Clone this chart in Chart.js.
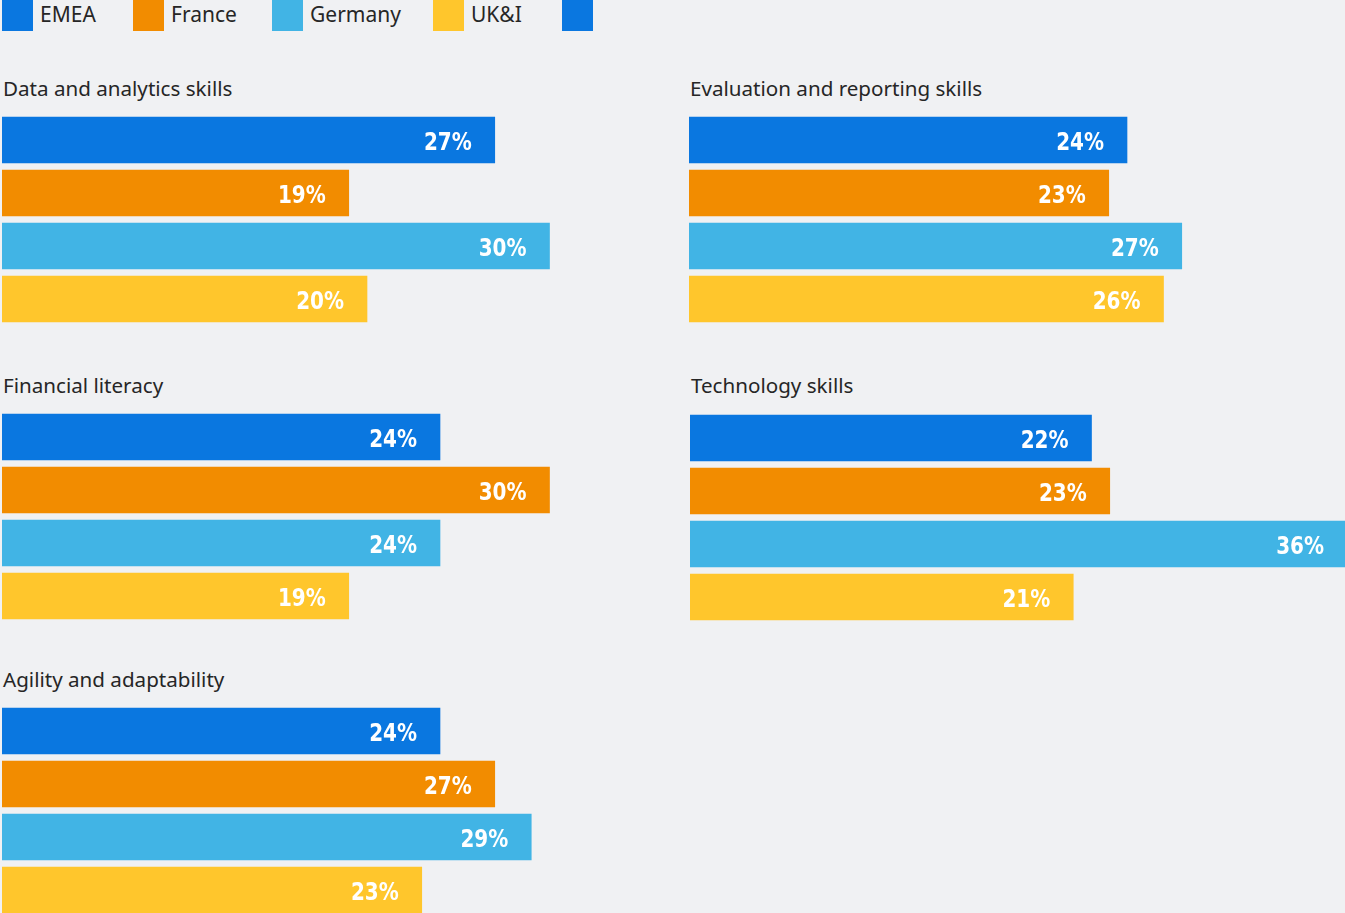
<!DOCTYPE html>
<html>
<head>
<meta charset="utf-8">
<script src="https://cdn.jsdelivr.net/npm/chart.js@4.4.1/dist/chart.umd.min.js"></script>
<style>
  html, body { margin: 0; padding: 0; background: #f0f1f3; overflow: hidden; }
  body { width: 1345px; height: 913px; position: relative; font-family: "Noto Sans", "Open Sans", sans-serif; color: #262626; }
  .legend-item { position: absolute; top: 0; height: 31px; display: flex; align-items: center; font-size: 21px; }
  .legend-item span { position: relative; top: -2px; }
  .swatch { width: 31px; height: 31px; margin-right: 7px; }
  .panel-title { position: absolute; font-size: 20.6px; line-height: 24px; white-space: nowrap; }
  .panel { position: absolute; width: 657px; height: 213px; }
</style>
</head>
<body>
<div id="legend"></div>
<div id="panels"></div>
<script>
// Survey groups shown as bars in every panel
const groups = ["EMEA", "France", "Germany", "UK&I"];
const groupColors = ["#0a77e0", "#f28c00", "#41b4e5", "#ffc62c"];

// Skill areas, one panel each
const skills = [
  "Data and analytics skills",
  "Evaluation and reporting skills",
  "Financial literacy",
  "Technology skills",
  "Agility and adaptability"
];

// Share of respondents (%) per skill area
const emea    = [27, 24, 24, 22, 24];
const france  = [19, 23, 30, 23, 27];
const germany = [30, 27, 24, 36, 29];
const ukI     = [20, 26, 19, 21, 23];

const axisMax = 36;

// Panel placement: left edge, title top, first bar top
const panelPos = [
  { x: 2,   titleY: 76,  barTop: 117 },
  { x: 689, titleY: 76,  barTop: 117 },
  { x: 2,   titleY: 373, barTop: 414 },
  { x: 690, titleY: 373, barTop: 415 },
  { x: 2,   titleY: 667, barTop: 708 }
];

// Legend
const legend = document.getElementById('legend');
const legendX = [2, 133, 272, 433];
groups.forEach((g, i) => {
  const item = document.createElement('div');
  item.className = 'legend-item';
  item.style.left = legendX[i] + 'px';
  item.innerHTML = '<div class="swatch" style="background:' + groupColors[i] + '"></div><span>' + g.replace('&', '&amp;') + '</span>';
  legend.appendChild(item);
});
const extra = document.createElement('div');
extra.className = 'legend-item';
extra.style.left = '562px';
extra.innerHTML = '<div class="swatch" style="background:' + groupColors[0] + ';margin-right:0"></div>';
legend.appendChild(extra);

// Value labels drawn inside each bar, right-aligned, in a condensed bold face
const valueLabels = {
  id: 'valueLabels',
  afterDatasetsDraw(chart) {
    const ctx = chart.ctx;
    const meta = chart.getDatasetMeta(0);
    const data = chart.data.datasets[0].data;
    const squeeze = 0.8;
    ctx.save();
    ctx.fillStyle = '#ffffff';
    ctx.font = 'bold 25px "DejaVu Sans", sans-serif';
    ctx.textAlign = 'right';
    ctx.textBaseline = 'middle';
    meta.data.forEach((bar, i) => {
      ctx.save();
      ctx.translate(bar.x - 23, bar.y + 3);
      ctx.scale(squeeze, 1);
      ctx.fillText(data[i] + '%', 0, 0);
      ctx.restore();
    });
    ctx.restore();
  }
};

const panels = document.getElementById('panels');
skills.forEach((skill, k) => {
  const pos = panelPos[k];
  const title = document.createElement('div');
  title.className = 'panel-title';
  title.style.left = (pos.x + 1) + 'px';
  title.style.top = pos.titleY + 'px';
  title.textContent = skill;
  panels.appendChild(title);

  const wrap = document.createElement('div');
  wrap.className = 'panel';
  wrap.style.left = pos.x + 'px';
  wrap.style.top = (pos.barTop - 4) + 'px';
  const canvas = document.createElement('canvas');
  wrap.appendChild(canvas);
  panels.appendChild(wrap);

  new Chart(canvas, {
    type: 'bar',
    data: {
      labels: groups,
      datasets: [{
        data: [emea[k], france[k], germany[k], ukI[k]],
        backgroundColor: groupColors,
        barThickness: 46,
        categoryPercentage: 1,
        barPercentage: 1,
        borderWidth: 0
      }]
    },
    options: {
      indexAxis: 'y',
      responsive: true,
      maintainAspectRatio: false,
      animation: false,
      layout: { padding: { top: 0.5, bottom: 0.5, left: 0, right: 0 } },
      plugins: { legend: { display: false }, tooltip: { enabled: false } },
      scales: {
        x: { display: false, min: 0, max: axisMax },
        y: { display: false }
      }
    },
    plugins: [valueLabels]
  });
});
</script>
</body>
</html>
